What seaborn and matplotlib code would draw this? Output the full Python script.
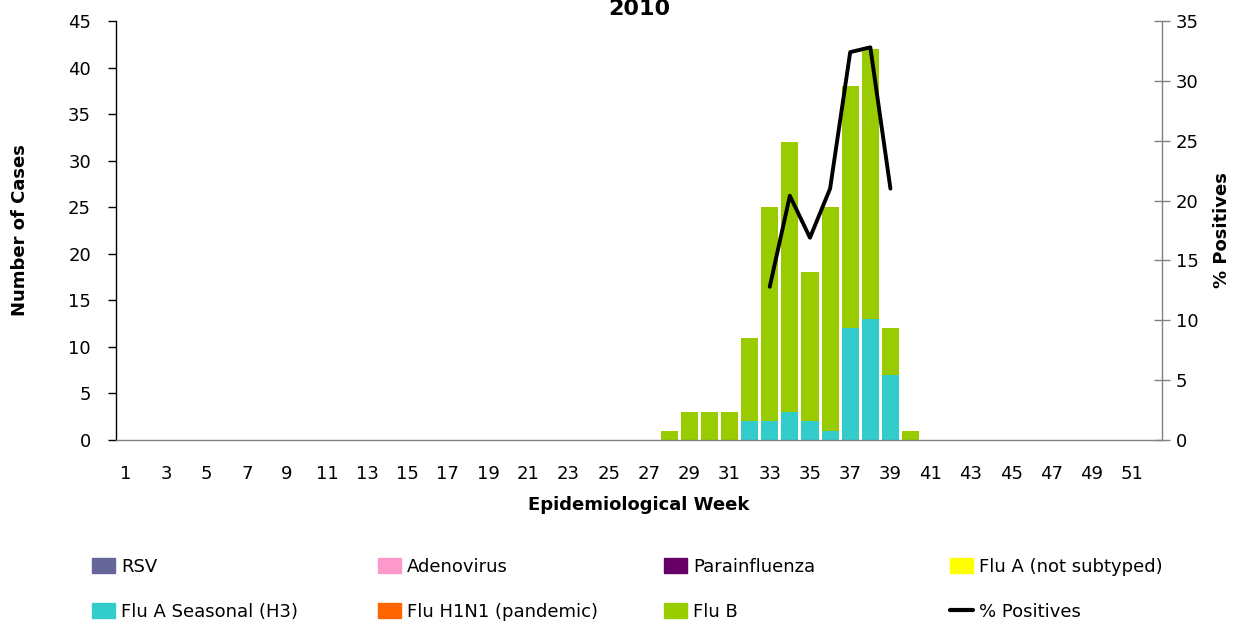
import matplotlib
matplotlib.use('Agg')
import matplotlib.pyplot as plt
import matplotlib.patches as mpatches
from matplotlib.lines import Line2D
import seaborn as sns
import pandas as pd
import numpy as np

# --- DATA ---
weeks = list(range(1, 53))
rsv = [0] * 52
adenovirus = [0] * 52
parainfluenza = [0] * 52
flu_a_not_subtyped = [0] * 52
flu_a_h3 = [0] * 31 + [2, 2, 3, 2, 1, 12, 13, 7] + [0] * 13
flu_h1n1 = [0] * 52
flu_b = [0] * 27 + [1, 3, 3, 3, 9, 23, 29, 16, 24, 26, 29, 5, 1] + [0] * 12

pct_weeks = [33, 34, 35, 36, 37, 38, 39]
pct_positives = [12.8, 20.4, 16.9, 21.0, 32.4, 32.8, 21.0]

series_names = ['RSV', 'Adenovirus', 'Parainfluenza', 'Flu A (not subtyped)',
                'Flu A Seasonal (H3)', 'Flu H1N1 (pandemic)', 'Flu B']
series_colors = ['#666699', '#FF99CC', '#660066', '#FFFF00',
                 '#33CCCC', '#FF6600', '#99CC00']

df = pd.DataFrame({
    'week': weeks,
    'RSV': rsv,
    'Adenovirus': adenovirus,
    'Parainfluenza': parainfluenza,
    'Flu A (not subtyped)': flu_a_not_subtyped,
    'Flu A Seasonal (H3)': flu_a_h3,
    'Flu H1N1 (pandemic)': flu_h1n1,
    'Flu B': flu_b,
})
cum = df[series_names].cumsum(axis=1)

# --- STYLE ---
sns.set_style('white')
plt.rcParams['font.family'] = ['DejaVu Sans']
plt.rcParams['text.color'] = 'black'
plt.rcParams['axes.labelcolor'] = 'black'
plt.rcParams['xtick.color'] = 'black'
plt.rcParams['ytick.color'] = 'black'
fs = 13

fig = plt.figure(figsize=(12.33, 6.23), dpi=100)
ax = fig.add_axes([0.0941, 0.2937, 0.8483, 0.6726])

# stacked bars: draw cumulative totals from the top layer down
for name, col in zip(reversed(series_names), reversed(series_colors)):
    sns.barplot(x=df['week'], y=cum[name], color=col, width=0.85,
                saturation=1, errorbar=None, linewidth=0, ax=ax)

ax.set_xlim(-0.5, 51.5)
ax.set_ylim(0, 45)
ax.set_yticks(range(0, 46, 5))
odd_pos = [weeks.index(w) for w in weeks if w % 2 == 1]
ax.set_xticks(odd_pos)
ax.set_xticklabels([str(weeks[p]) for p in odd_pos], fontsize=fs)
ax.set_xticks(np.arange(-0.5, 52, 1), minor=True)
ax.tick_params(axis='x', which='major', length=0, pad=18)
ax.tick_params(axis='x', which='minor', length=6, color='#808080', width=1, direction='out')
ax.tick_params(axis='y', length=6, color='#000000', width=1, direction='out', left=True,
               labelsize=fs, pad=12)
ax.set_xlabel('Epidemiological Week', fontsize=fs, fontweight='bold', labelpad=9)
ax.set_ylabel('Number of Cases', fontsize=fs, fontweight='bold', labelpad=28)
ax.set_title('2010', fontsize=16, fontweight='bold', pad=4)

for s in ['top', 'right']:
    ax.spines[s].set_visible(False)
ax.spines['left'].set_color('#000000')
ax.spines['bottom'].set_color('#808080')
ax.spines['left'].set_linewidth(1)
ax.spines['bottom'].set_linewidth(1)

# % positives on secondary axis
ax2 = ax.twinx()
pct_x = [weeks.index(w) for w in pct_weeks]
sns.lineplot(x=pct_x, y=pct_positives, color='black', linewidth=2.8, ax=ax2)
ax2.set_ylim(0, 35)
ax2.set_yticks(range(0, 36, 5))
ax2.tick_params(axis='y', length=12, color='#808080', width=1, direction='inout',
                right=True, labelsize=fs, pad=4)
ax2.set_ylabel('% Positives', fontsize=fs, fontweight='bold', labelpad=10)
for s in ['top', 'left', 'bottom']:
    ax2.spines[s].set_visible(False)
ax2.spines['right'].set_color('#808080')
ax2.spines['right'].set_linewidth(1)

# --- LEGEND (4 columns x 2 rows) ---
handles = [mpatches.Patch(color=c, label=n) for n, c in zip(series_names, series_colors)]
handles.append(Line2D([0], [0], color='black', linewidth=3, label='% Positives'))
col_x = [92, 378, 664, 950]
for i, x in enumerate(col_x):
    hs = [handles[i], handles[i + 4]]
    fig.legend(handles=hs, loc='upper left', bbox_to_anchor=(x / 1233, 1 - 558 / 623),
               frameon=False, fontsize=fs, borderpad=0, borderaxespad=0,
               handlelength=1.3, handleheight=0.9, handletextpad=0.3, labelspacing=1.5)

plt.savefig('out.png', dpi=100)
